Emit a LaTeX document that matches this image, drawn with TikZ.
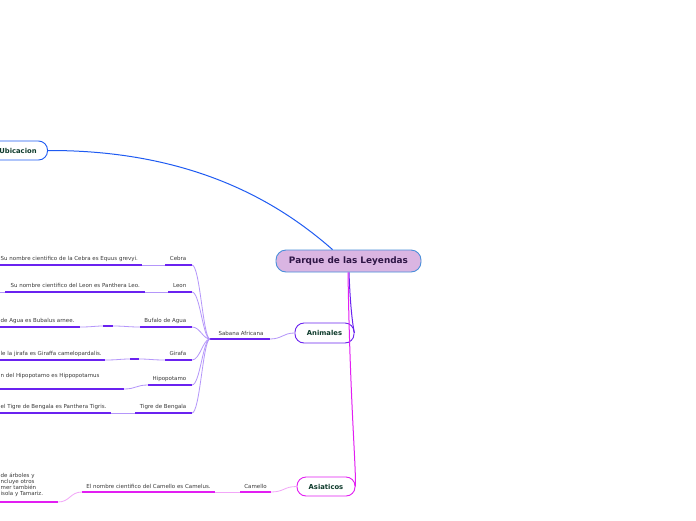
\documentclass[tikz,border=0pt]{standalone}
\usepackage{fontspec}
\setmainfont{DejaVu Sans}
\usetikzlibrary{calc}
\definecolor{blueline}{HTML}{1F5BF2}
\definecolor{parquefill}{HTML}{DAB5E2}
\definecolor{parqueborder}{HTML}{4A8FDA}
\definecolor{violetc}{HTML}{6A22F0}
\definecolor{violetlight}{HTML}{B496FA}
\definecolor{magentac}{HTML}{E21EF2}
\definecolor{magentalight}{HTML}{F2A6F8}
\definecolor{titletext}{HTML}{0E3B2C}
\definecolor{parquetext}{HTML}{2E1545}
\definecolor{leaftext}{HTML}{3A3A3A}
\begin{document}
\begin{tikzpicture}[x=1pt,y=-1pt,
  topic/.style={draw, rounded corners=9pt, line width=0.9pt, fill=white,
    font=\fontsize{6.8}{7.5}\selectfont\bfseries, text=titletext,
    minimum height=19pt, inner sep=0pt},
  lbl/.style={font=\fontsize{5.5}{6.2}\selectfont, text=leaftext, inner sep=0pt},
  ulv/.style={draw=violetc, line width=1.5pt},
  linkv/.style={draw=violetlight, line width=0.8pt},
  ulm/.style={draw=magentac, line width=1.5pt},
  linkm/.style={draw=magentalight, line width=0.8pt}]
\useasboundingbox (0,0) rectangle (696,520);
\fill[white] (0,0) rectangle (696,520);

% main topics
\node[topic, draw=parqueborder, fill=parquefill, text=parquetext,
  font=\fontsize{8.9}{10}\selectfont\bfseries, minimum width=145pt,
  minimum height=22pt, rounded corners=10pt] (parque) at (348.5,261) {Parque de las Leyendas};
\node[topic, draw=blueline, minimum width=59pt] (ubic) at (18,150.5) {Ubicacion};
\node[topic, draw=violetc, minimum width=59pt, minimum height=20pt] (anim) at (324.5,333) {Animales};
\node[topic, draw=magentac, minimum width=58pt] (asia) at (326,486.5) {Asiaticos};

% main connectors
\draw[blueline, line width=1pt] ($(parque.north)+(-16,0)$) .. controls (285,208) and (200,150) .. (ubic.east);
\draw[violetc, line width=1pt] ($(parque.south)+(0.5,0)$) .. controls (350,300) and (352,322) .. (anim.east);
\draw[magentac, line width=1pt] ($(parque.south)+(-0.5,0)$) .. controls (350,400) and (356,465) .. (asia.east);

% Sabana Africana
\coordinate (sabL) at (210,339);
\coordinate (sabR) at (270,339);
\node[lbl, anchor=south] (sabana) at (241,336) {Sabana Africana};
\draw[ulv] (sabL) -- (sabR);
\draw[linkv] (anim.west) .. controls (283,333) and (282,339) .. (sabR);

% children of Sabana
\foreach \nm/\y/\xl/\txt in {cebra/265/165/Cebra, leon/292/168/Leon, bufalo/327/140/Bufalo de Agua,
  girafa/360/165/Girafa, hipo/385/148/Hipopotamo, tigre/413/135/Tigre de Bengala}{
  \coordinate (\nm R) at (192,\y);
  \coordinate (\nm L) at (\xl,\y);
  \node[lbl, anchor=east] (\nm T) at (186.5,\y-6.5) {\txt};
  \draw[ulv] (\nm L) -- (\nm R);
  \draw[linkv] (sabL) .. controls (203,339) and (200,\y) .. (\nm R);
}

% leaves
\node[lbl, anchor=west] (cebraLeaf) at (0.5,258.5) {Su nombre cientifico de la Cebra es Equus grevyi.};
\coordinate (cebraA) at (0,265); \coordinate (cebraB) at (142,265);
\draw[ulv] (cebraA) -- (cebraB);
\draw[linkv] (cebraB) -- (cebraL);

\node[lbl, anchor=east] (leonLeaf) at (140,285.5) {Su nombre cientifico del Leon es Panthera Leo.};
\coordinate (leonA) at (5,292); \coordinate (leonB) at (145,292); \coordinate (leonZ) at (0,292);
\draw[linkv] (leonZ) -- (leonA);
\draw[ulv] (leonA) -- (leonB);
\draw[linkv] (leonB) -- (leonL);

\node[lbl, anchor=west] (bufaloLeaf) at (0.5,320.5) {de Agua es Bubalus arnee.};
\coordinate (bufaloA) at (0,327); \coordinate (bufaloB) at (80,327);
\coordinate (bufaloM1) at (103,326); \coordinate (bufaloM2) at (113,326);
\draw[ulv] (bufaloA) -- (bufaloB);
\draw[linkv] (bufaloB) .. controls (92,327) and (95,326) .. (bufaloM1);
\draw[ulv] (bufaloM1) -- (bufaloM2);
\draw[linkv] (bufaloM2) .. controls (125,326) and (128,327) .. (bufaloL);

\node[lbl, anchor=west] (girafaLeaf) at (0.5,353.5) {le la jirafa es Giraffa camelopardalis.};
\coordinate (girafaA) at (0,360); \coordinate (girafaB) at (105,360);
\coordinate (girafaM1) at (130,359); \coordinate (girafaM2) at (139,359);
\draw[ulv] (girafaA) -- (girafaB);
\draw[linkv] (girafaB) .. controls (118,360) and (120,359) .. (girafaM1);
\draw[ulv] (girafaM1) -- (girafaM2);
\draw[linkv] (girafaM2) .. controls (150,359) and (152,360) .. (girafaL);

\node[lbl, anchor=west] (hipoLeaf) at (0.5,375.5) {n del Hipopotamo es Hippopotamus};
\coordinate (hipoA) at (0,389); \coordinate (hipoB) at (124,389);
\draw[ulv] (hipoA) -- (hipoB);
\draw[linkv] (hipoB) .. controls (136,389) and (136,385) .. (hipoL);

\node[lbl, anchor=west] (tigreLeaf) at (0.5,406.5) {el Tigre de Bengala es Panthera Tigris.};
\coordinate (tigreA) at (0,413); \coordinate (tigreB) at (111,413);
\draw[ulv] (tigreA) -- (tigreB);
\draw[linkv] (tigreB) -- (tigreL);

% Asiaticos branch
\coordinate (camL) at (240,492); \coordinate (camR) at (271,492);
\node[lbl, anchor=south] (camello) at (255.5,489) {Camello};
\draw[ulm] (camL) -- (camR);
\draw[linkm] (asia.west) .. controls (284,486.5) and (284,492) .. (camR);

\coordinate (camLeafL) at (82,492); \coordinate (camLeafR) at (215,492);
\node[lbl, anchor=south] (camLeaf) at (148.5,489) {El nombre cientifico del Camello es Camelus.};
\draw[ulm] (camLeafL) -- (camLeafR);
\draw[linkm] (camLeafR) -- (camL);

\coordinate (arbL) at (0,502); \coordinate (arbR) at (58,502);
\node[lbl, anchor=north west, align=left, font=\fontsize{5.5}{6.1}\selectfont] (arbLeaf) at (0.5,473)
  {de árboles y\\ncluye otros\\mer también\\isola y Tamariz.};
\draw[ulm] (arbL) -- (arbR);
\draw[linkm] (arbR) .. controls (70,502) and (70,492) .. (camLeafL);
\end{tikzpicture}
\end{document}
